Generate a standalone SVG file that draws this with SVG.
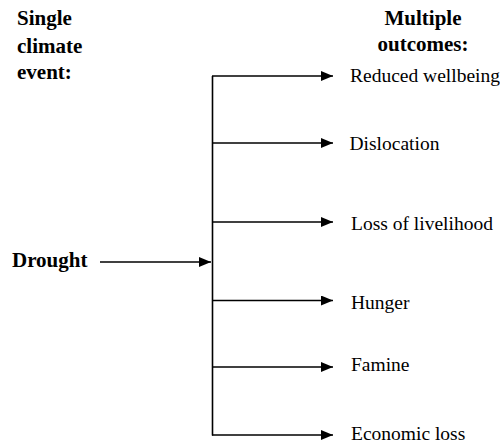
<svg xmlns="http://www.w3.org/2000/svg" width="500" height="446" viewBox="0 0 500 446">
<style>
.h{font-family:"Liberation Serif","Times New Roman",serif;font-weight:bold;font-size:21px;fill:#000}
.o{font-family:"Liberation Serif","Times New Roman",serif;font-size:19.5px;fill:#000}
.c{stroke:#000;stroke-width:1.6;fill:none}
</style>
<defs>
<marker id="ah" markerUnits="userSpaceOnUse" markerWidth="13" markerHeight="11" refX="12" refY="5" orient="auto">
<path d="M0,0 L12,5 L0,10 z" fill="#000"/>
</marker>
</defs>
<rect width="500" height="446" fill="#fff"/>
<g id="header-left">
<text class="h" x="17" y="25">Single</text>
<text class="h" x="17" y="52.5">climate</text>
<text class="h" x="17" y="78.5">event:</text>
</g>
<g id="header-right">
<text class="h" x="423" y="25" text-anchor="middle">Multiple</text>
<text class="h" x="423" y="50.5" text-anchor="middle">outcomes:</text>
</g>
<g id="drought"><text class="h" x="12" y="267">Drought</text></g>
<g id="reduced-wellbeing"><text class="o" x="350" y="82">Reduced wellbeing</text></g>
<g id="dislocation"><text class="o" x="349.5" y="149.5">Dislocation</text></g>
<g id="loss-of-livelihood"><text class="o" x="351" y="230">Loss of livelihood</text></g>
<g id="hunger"><text class="o" x="351" y="308.5">Hunger</text></g>
<g id="famine"><text class="o" x="351" y="371">Famine</text></g>
<g id="economic-loss"><text class="o" x="351" y="440">Economic loss</text></g>
<g id="connectors">
<line class="c" x1="100" y1="262" x2="211" y2="262" marker-end="url(#ah)"/>
<line class="c" x1="212.5" y1="76" x2="212.5" y2="435.5"/>
<line class="c" x1="212" y1="76" x2="333" y2="76" marker-end="url(#ah)"/>
<line class="c" x1="212" y1="143" x2="333" y2="143" marker-end="url(#ah)"/>
<line class="c" x1="212" y1="222" x2="333" y2="222" marker-end="url(#ah)"/>
<line class="c" x1="212" y1="300.5" x2="333" y2="300.5" marker-end="url(#ah)"/>
<line class="c" x1="212" y1="367" x2="333" y2="367" marker-end="url(#ah)"/>
<line class="c" x1="212" y1="435" x2="333" y2="435" marker-end="url(#ah)"/>
</g>
</svg>
